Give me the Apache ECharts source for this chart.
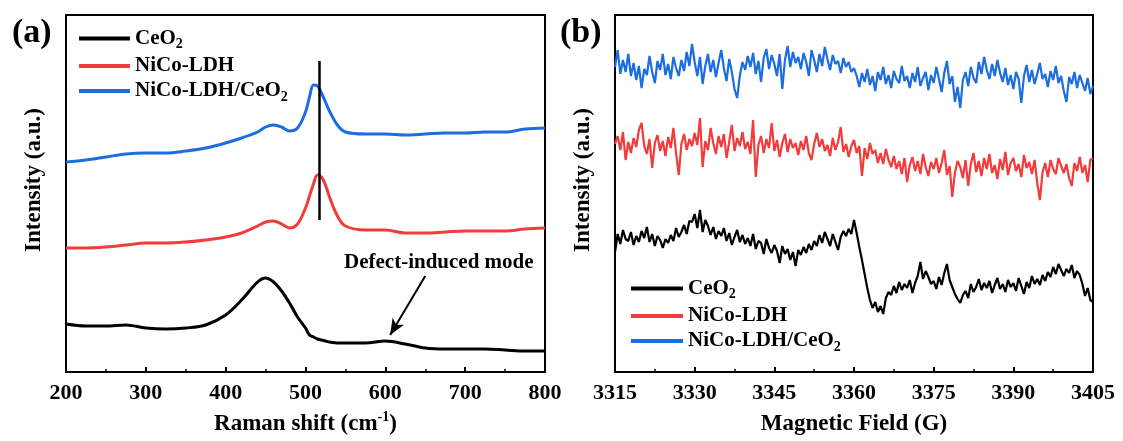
<!DOCTYPE html>
<html>
<head>
<meta charset="utf-8">
<script src="https://cdn.jsdelivr.net/npm/echarts@6/dist/echarts.min.js"></script>
<style>
html,body{margin:0;padding:0;background:#fff;}
#chart{width:1123px;height:441px;}
</style>
</head>
<body>
<div id="chart"></div>
<script>
// ---------- Panel (a): Raman ----------
const ramanShift = [200,225,250,275,300,325,350,375,400,420,440,450,460,470,480,490,500,505,510,515,520,525,530,540,550,575,600,625,650,675,700,725,750,775,800];
const ramanCeO2 = [48,46,46,47,44,43,44,47,57,72,90,94,90,81,69,55,44,37,35,33,32,31,30,29,29,29,31,28,24,23,23,23,22,21,21];
const ramanLDH = [124,124,125,127,129,129,130,132,135,139,146,150,151,148,144,148,164,176,188,197,195,187,175,156,146,142,142,139,139,140,141,141,141,143,144];
const ramanLDHCeO2 = [210,212,215,218,219,219,221,224,229,234,240,245,247,245,241,244,260,275,287,286,279,270,261,247,240,238,238,237,238,239,239,240,240,243,244];
const ramanTicks = [200,300,400,500,600,700,800];
const peakLineX = 517;
const peakLineY = [152, 311];
const defectArrowFrom = [650, 96];
const defectArrowTo = [606, 37];
const defectLabelAt = [667, 109];

// ---------- Panel (b): EPR ----------
const fieldStart = 3315, fieldStep = 0.5;
const eprLDHCeO2 = [
305,322,298,312,300,318,296,309,292,306,
284,303,297,316,300,289,311,302,318,297,
308,293,315,304,296,312,301,320,306,328,
310,296,315,288,306,318,300,312,295,309,
322,304,291,313,300,283,274,296,310,302,
316,305,319,298,311,290,314,323,303,317,
308,296,318,283,312,326,305,320,309,315,
303,319,310,296,322,312,300,318,306,325,
313,302,317,308,311,299,314,305,310,300,
304,296,285,299,290,303,287,296,281,300,
292,305,288,297,284,301,293,289,306,291,
296,284,299,290,305,286,294,300,282,297,
289,305,293,280,299,311,288,296,270,285,
264,292,300,286,305,294,289,310,298,315,
302,293,308,296,312,299,290,304,287,297,
283,300,293,269,296,307,290,302,288,298,
309,293,298,285,301,292,306,289,296,281,
270,295,288,300,284,297,289,281,294,278,
286];
const eprLDH = [
228,236,222,240,212,230,219,234,225,242,
249,226,218,233,204,229,237,221,231,216,
235,224,244,219,197,228,238,222,233,226,
239,227,254,205,231,222,244,229,218,236,
225,238,214,230,247,221,234,226,240,223,
230,218,252,195,227,236,219,233,224,249,
221,232,215,229,238,220,233,224,229,217,
231,222,236,219,212,228,239,225,233,221,
227,216,234,222,230,245,220,228,215,226,
232,219,226,196,224,213,229,218,222,209,
219,208,223,212,205,216,203,211,198,214,
190,207,215,201,211,198,218,205,196,210,
203,214,199,209,222,197,206,175,199,211,
205,194,212,186,208,219,200,211,196,214,
203,218,199,207,193,213,202,220,197,209,
214,201,208,195,217,204,210,198,212,189,
172,200,209,195,212,203,198,214,206,199,
208,194,186,209,201,215,199,207,190,212,
214];
const eprCeO2 = [
120,138,128,142,133,131,140,127,136,130,
141,134,145,130,138,126,136,132,124,133,
129,137,131,144,135,140,147,138,151,150,
158,144,162,140,152,146,137,145,133,141,
136,144,131,139,127,135,142,130,137,128,
134,126,138,123,131,129,118,133,124,119,
127,121,109,126,118,123,112,120,106,122,
117,125,119,128,122,131,126,137,129,140,
133,126,138,130,122,135,141,136,143,138,
152,139,125,112,98,84,72,64,70,60,
66,58,74,80,77,86,79,90,82,88,
84,92,79,89,96,110,93,101,95,88,
91,83,95,87,99,108,92,85,78,73,
69,77,81,74,88,80,85,93,82,89,
84,91,79,87,94,83,88,80,92,85,
89,81,94,86,78,90,84,96,88,93,
87,97,91,100,95,105,98,108,102,96,
103,99,107,94,101,97,88,76,84,72,
70];
const eprTicks = [3315,3330,3345,3360,3375,3390,3405];

const seriesNames = ['CeO2','NiCo-LDH','NiCo-LDH/CeO2'];
const colors = {'CeO2':'#000000','NiCo-LDH':'#F23B3B','NiCo-LDH/CeO2':'#1C6EE0'};

function pairs(xs, ys){ return ys.map((v,i)=>[xs[i], v]); }
function fieldPairs(ys){ return ys.map((v,i)=>[fieldStart + i*fieldStep, v]); }

const FONT = 'Liberation Serif';
const richLegend = {
  t:{fontFamily:FONT,fontWeight:'bold',fontSize:21,color:'#000',lineHeight:26},
  s:{fontFamily:FONT,fontWeight:'bold',fontSize:14,color:'#000',lineHeight:26,verticalAlign:'bottom',padding:[9,0,0,0]}
};
function legendFmt(name){
  if(name==='CeO2') return '{t|CeO}{s|2}';
  if(name==='NiCo-LDH/CeO2') return '{t|NiCo-LDH/CeO}{s|2}';
  return '{t|'+name+'}';
}

function xAxisCfg(gi, min, max, interval, nameRich){
  return {
    gridIndex: gi, type:'value', min:min, max:max, interval:interval,
    axisLine:{show:true, lineStyle:{color:'#000', width:2}},
    axisTick:{show:true, inside:true, length:5, lineStyle:{color:'#000', width:2}},
    minorTick:{show:true, splitNumber:2, length:3, lineStyle:{color:'#000', width:1.5}},
    splitLine:{show:false},
    axisLabel:{fontFamily:FONT, fontWeight:'bold', fontSize:22, color:'#000', margin:10,
      formatter:function(v){ return String(v); }},
    name: nameRich, nameLocation:'middle', nameGap:38,
    nameTextStyle:{fontFamily:FONT, fontWeight:'bold', fontSize:23, color:'#000',
      rich:{
        n:{fontFamily:FONT,fontWeight:'bold',fontSize:23,color:'#000',lineHeight:28},
        sup:{fontFamily:FONT,fontWeight:'bold',fontSize:14,color:'#000',lineHeight:28,verticalAlign:'top',padding:[0,0,10,0]}
      }}
  };
}
function yAxisCfg(gi){
  return {gridIndex:gi, type:'value', min:0, max:357, show:true,
    axisLine:{show:false}, axisTick:{show:false}, axisLabel:{show:false}, splitLine:{show:false}};
}

const series = [];
const ramanData = {'CeO2':ramanCeO2,'NiCo-LDH':ramanLDH,'NiCo-LDH/CeO2':ramanLDHCeO2};
seriesNames.forEach(n=>{
  const s = {name:n, type:'line', xAxisIndex:0, yAxisIndex:0, data:pairs(ramanShift, ramanData[n]),
    showSymbol:false, symbol:'none', smooth:0.35, color:colors[n], lineStyle:{width:3, color:colors[n]}, z:3};
  if(n==='CeO2'){
    s.markLine = {silent:true, symbol:['none','none'], animation:false,
      label:{show:false},
      data:[
        [{coord:[peakLineX, peakLineY[0]], lineStyle:{color:'#000', width:2.5, type:'solid'}}, {coord:[peakLineX, peakLineY[1]]}],
        [{coord:defectArrowFrom, symbol:'none', lineStyle:{color:'#000', width:2, type:'solid'}}, {coord:defectArrowTo, symbol:'arrow', symbolSize:[10,16]}]
      ]};
    s.markPoint = {silent:true, animation:false, symbol:'circle', symbolSize:0,
      data:[{coord:defectLabelAt, value:'Defect-induced mode',
        label:{show:true, position:'inside', formatter:'Defect-induced mode', fontFamily:FONT, fontWeight:'bold', fontSize:21, color:'#000'}}]};
  }
  series.push(s);
});
const eprData = {'CeO2':eprCeO2,'NiCo-LDH':eprLDH,'NiCo-LDH/CeO2':eprLDHCeO2};
seriesNames.forEach(n=>{
  series.push({name:n, type:'line', xAxisIndex:1, yAxisIndex:1, data:fieldPairs(eprData[n]),
    showSymbol:false, symbol:'none', color:colors[n], lineStyle:{width:2.2, color:colors[n]}, z:3});
});

const option = {
  backgroundColor:'#fff',
  animation:false,
  grid:[
    {left:66, right:578, top:15, bottom:69, show:true, borderColor:'#000', borderWidth:2, backgroundColor:'transparent'},
    {left:615, right:30, top:15, bottom:69, show:true, borderColor:'#000', borderWidth:2, backgroundColor:'transparent'}
  ],
  xAxis:[
    xAxisCfg(0, ramanTicks[0], ramanTicks[ramanTicks.length-1], 100, '{n|Raman shift (cm}{sup|-1}{n|)}'),
    xAxisCfg(1, eprTicks[0], eprTicks[eprTicks.length-1], 15, '{n|Magnetic Field (G)}')
  ],
  yAxis:[yAxisCfg(0), yAxisCfg(1)],
  legend:[
    {data:seriesNames, orient:'vertical', left:74, top:23, itemGap:4, itemWidth:51, itemHeight:4, icon:'rect',
      selectedMode:false, formatter:legendFmt, textStyle:{rich:richLegend, padding:[0,0,0,0]}},
    {data:seriesNames, orient:'vertical', left:626, top:273, itemGap:4, itemWidth:52, itemHeight:4, icon:'rect',
      selectedMode:false, formatter:legendFmt, textStyle:{rich:richLegend}}
  ],
  graphic:[
    {type:'text', left:12, top:16, style:{text:'(a)', font:'bold 34px "Liberation Serif"', fill:'#000'}},
    {type:'text', left:560, top:16, style:{text:'(b)', font:'bold 34px "Liberation Serif"', fill:'#000'}},
    {type:'text', x:34, y:180, rotation:Math.PI/2, style:{text:'Intensity (a.u.)', font:'bold 23px "Liberation Serif"', fill:'#000', align:'center', verticalAlign:'middle'}},
    {type:'text', x:583, y:180, rotation:Math.PI/2, style:{text:'Intensity (a.u.)', font:'bold 23px "Liberation Serif"', fill:'#000', align:'center', verticalAlign:'middle'}}
  ],
  series: series
};
const chart = echarts.init(document.getElementById('chart'), null, {renderer:'canvas'});
chart.setOption(option);
</script>
</body>
</html>
